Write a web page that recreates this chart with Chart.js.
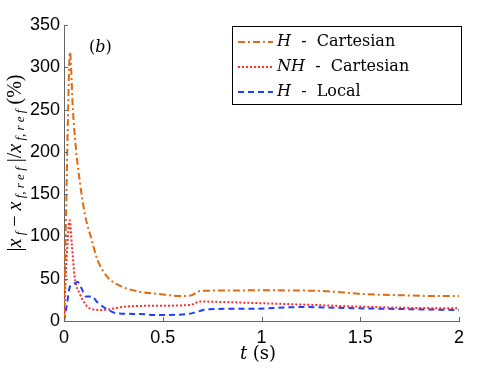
<!DOCTYPE html>
<html>
<head>
<meta charset="utf-8">
<script src="https://cdn.jsdelivr.net/npm/chart.js@4.4.1/dist/chart.umd.min.js"></script>
<style>
  body { margin: 0; background: #fff; }
  #wrap { width: 494px; height: 370px; position: relative; }
</style>
</head>
<body>
<div id="wrap"><canvas id="errChart"></canvas></div>
<script>
// H - Cartesian
const hCartT = [0, 0.01, 0.02, 0.03, 0.045, 0.06, 0.08, 0.105, 0.14, 0.17, 0.22, 0.29, 0.375, 0.48, 0.6, 0.64, 0.69, 0.8, 1.0, 1.2, 1.3, 1.4, 1.5, 1.6, 1.7, 1.87, 2.0];
const hCartV = [0, 120, 240, 318, 250, 205, 165, 127, 96, 72, 52, 41, 35, 32, 29.5, 30, 35.5, 36, 36.3, 36, 35.5, 34, 32, 31, 30.5, 29.6, 29.6];
// NH - Cartesian
const nhCartT = [0, 0.01, 0.02, 0.029, 0.04, 0.054, 0.08, 0.105, 0.13, 0.19, 0.31, 0.46, 0.64, 0.69, 0.8, 1.0, 1.2, 1.5, 1.75, 2.0];
const nhCartV = [0, 60, 100, 119, 90, 52, 32, 21, 15, 13, 17, 18, 19, 23, 22.5, 21, 19.5, 17, 15.5, 15];
// H - Local
const hLocT = [0, 0.015, 0.029, 0.05, 0.07, 0.09, 0.11, 0.14, 0.17, 0.21, 0.27, 0.385, 0.46, 0.62, 0.69, 0.72, 0.975, 1.2, 1.5, 2.0];
const hLocV = [0, 20, 40, 44, 46, 38, 29, 29, 22, 15, 9, 8.3, 7, 8, 12, 13.8, 14.6, 16.5, 15, 13];

const xTicks = [0, 0.5, 1, 1.5, 2];
const yTicks = [0, 50, 100, 150, 200, 250, 300, 350];

const orange = '#e06a10';
const red = '#ff2a2a';
const blue = '#1f3cff';

function pts(ts, vs) {
    return ts.map((t, i) => ({ x: t, y: vs[i] }));
}

// draws a list of [text, font, dy] pieces starting at x, returns end x
function drawPieces(ctx, pieces, x, y) {
    pieces.forEach(p => {
        ctx.font = p[1];
        ctx.fillText(p[0], x, y + (p[2] || 0));
        x += ctx.measureText(p[0]).width;
    });
    return x;
}
function piecesWidth(ctx, pieces) {
    let w = 0;
    pieces.forEach(p => { ctx.font = p[1]; w += ctx.measureText(p[0]).width; });
    return w;
}

const serif = '"Liberation Serif", "DejaVu Serif", serif';
const wserif = '"DejaVu Serif", serif';
const sans = '"Liberation Sans", Arial, sans-serif';

const decorPlugin = {
    id: 'decor',
    afterDraw(chart) {
        const ctx = chart.ctx;
        const xs = chart.scales.x, ys = chart.scales.y;
        const area = chart.chartArea;
        ctx.save();
        // inward ticks
        ctx.strokeStyle = '#666';
        ctx.lineWidth = 1;
        ctx.beginPath();
        yTicks.forEach(v => {
            const py = Math.round(ys.getPixelForValue(v)) + 0.5;
            ctx.moveTo(area.left, py);
            ctx.lineTo(area.left + 4, py);
        });
        xTicks.forEach(v => {
            const px = Math.round(xs.getPixelForValue(v)) + 0.5;
            ctx.moveTo(px, area.bottom);
            ctx.lineTo(px, area.bottom - 4);
        });
        ctx.stroke();

        ctx.fillStyle = '#000';
        ctx.textBaseline = 'middle';
        // (b)
        drawPieces(ctx, [['(', '16px ' + wserif], ['b', 'italic 16px ' + wserif], [')', '16px ' + wserif]], 89, 48);

        // x title
        const xt = [['t', 'italic 18px ' + wserif], [' (s)', '18px ' + wserif]];
        drawPieces(ctx, xt, 258 - piecesWidth(ctx, xt) / 2, 354);

        // y title
        const m = 'italic 20px ' + serif, r = '20px ' + serif, s = 'italic 13px ' + serif;
        const yt = [['|', r], ['x', m], [' f', s, 5], [' − ', r], ['x', m], [' f, r e f', s, 5],
                    [' |', r], ['/', r], ['x', m], [' f, r e f', s, 5], [' (%)', r]];
        ctx.translate(16, 163);
        ctx.rotate(-Math.PI / 2);
        drawPieces(ctx, yt, -piecesWidth(ctx, yt) / 2, 0);
        ctx.setTransform(1, 0, 0, 1, 0, 0);

        // legend
        ctx.fillStyle = '#fff';
        ctx.fillRect(232.5, 26.5, 229, 78);
        ctx.strokeStyle = '#000';
        ctx.lineWidth = 1;
        ctx.strokeRect(232.5, 26.5, 229, 78);
        const lf = '16px ' + wserif, li = 'italic 16px ' + wserif;
        const rows = [
            [[['H', li], ['  -  Cartesian', lf]], chart.data.datasets[0]],
            [[['NH', li], ['  -  Cartesian', lf]], chart.data.datasets[1]],
            [[['H', li], ['  -  Local', lf]], chart.data.datasets[2]]
        ];
        rows.forEach((row, i) => {
            const y = 42 + i * 25;
            const ds = row[1];
            ctx.strokeStyle = ds.borderColor;
            ctx.lineWidth = ds.borderWidth;
            ctx.setLineDash(ds.borderDash);
            ctx.beginPath();
            ctx.moveTo(238, y);
            ctx.lineTo(273, y);
            ctx.stroke();
            ctx.setLineDash([]);
            ctx.fillStyle = '#000';
            drawPieces(ctx, row[0], 277, y);
        });
        ctx.restore();
    }
};

new Chart(document.getElementById('errChart'), {
    type: 'line',
    data: {
        datasets: [{
            label: 'H - Cartesian',
            data: pts(hCartT, hCartV),
            borderColor: orange,
            borderWidth: 2,
            borderDash: [7, 3, 2, 3],
            pointRadius: 0,
            cubicInterpolationMode: 'monotone'
        }, {
            label: 'NH - Cartesian',
            data: pts(nhCartT, nhCartV),
            borderColor: red,
            borderWidth: 2,
            borderDash: [2, 2],
            pointRadius: 0,
            cubicInterpolationMode: 'monotone'
        }, {
            label: 'H - Local',
            data: pts(hLocT, hLocV),
            borderColor: blue,
            borderWidth: 2,
            borderDash: [6, 4],
            pointRadius: 0,
            cubicInterpolationMode: 'monotone'
        }]
    },
    options: {
        animation: false,
        responsive: true,
        maintainAspectRatio: false,
        layout: { padding: { left: 0, top: 25, right: 35, bottom: 0 } },
        plugins: {
            legend: { display: false },
            tooltip: { enabled: false }
        },
        scales: {
            x: {
                type: 'linear',
                min: 0,
                max: 2,
                afterBuildTicks: s => { s.ticks = xTicks.map(v => ({ value: v })); },
                afterFit: s => { s.height = 49; },
                grid: { display: false, drawTicks: false },
                border: { color: '#666', width: 1 },
                ticks: { color: '#000', padding: 6, font: { family: sans, size: 18 }, callback: v => String(v) }
            },
            y: {
                min: 0,
                max: 350,
                afterBuildTicks: s => { s.ticks = yTicks.map(v => ({ value: v })); },
                afterFit: s => { s.width = 64; },
                grid: { display: false, drawTicks: false },
                border: { color: '#666', width: 1 },
                ticks: { color: '#000', padding: 4, font: { family: sans, size: 18 } }
            }
        }
    },
    plugins: [decorPlugin]
});
</script>
</body>
</html>
